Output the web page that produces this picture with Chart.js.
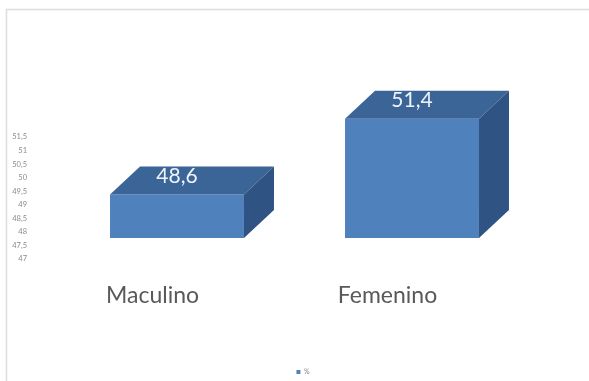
<!DOCTYPE html>
<html>
<head>
<meta charset="utf-8">
<script src="https://cdn.jsdelivr.net/npm/chart.js@4.4.0/dist/chart.umd.min.js"></script>
<style>
    html, body { margin: 0; padding: 0; background: #fff; }
    #wrap { width: 589px; height: 381px; position: relative; }
</style>
</head>
<body>
<div id="wrap"><canvas id="chart"></canvas></div>
<script>
var categories = ['Maculino', 'Femenino'];
var seriesName = '%';
var values = [48.6, 51.4];
var valueLabels = ['48,6', '51,4'];
var tickLabels = ['47', '47,5', '48', '48,5', '49', '49,5', '50', '50,5', '51', '51,5'];

var FRONT = '#4f81bd',
    TOP = '#3b6497',
    SIDE = '#2f5484';
var DEPTH_X = 30,
    DEPTH_Y = 28;

// draws the frame and the top / side faces of each bar
var box3d = {
    id: 'box3d',
    beforeDraw: function(chart) {
        var ctx = chart.ctx;
        ctx.save();
        ctx.strokeStyle = '#dcdcdc';
        ctx.lineWidth = 1.5;
        ctx.beginPath();
        ctx.moveTo(6.5, 381);
        ctx.lineTo(6.5, 9.5);
        ctx.lineTo(589, 9.5);
        ctx.stroke();
        ctx.restore();
    },
    afterDatasetsDraw: function(chart) {
        var ctx = chart.ctx;
        var meta = chart.getDatasetMeta(0);
        ctx.save();
        meta.data.forEach(function(bar, i) {
            var p = bar.getProps(['x', 'y', 'base', 'width'], true);
            var l = p.x - p.width / 2,
                r = p.x + p.width / 2,
                t = p.y,
                b = p.base;

            ctx.fillStyle = TOP;
            ctx.beginPath();
            ctx.moveTo(l, t);
            ctx.lineTo(r, t);
            ctx.lineTo(r + DEPTH_X, t - DEPTH_Y);
            ctx.lineTo(l + DEPTH_X, t - DEPTH_Y);
            ctx.closePath();
            ctx.fill();

            ctx.fillStyle = SIDE;
            ctx.beginPath();
            ctx.moveTo(r, t);
            ctx.lineTo(r + DEPTH_X, t - DEPTH_Y);
            ctx.lineTo(r + DEPTH_X, b - DEPTH_Y);
            ctx.lineTo(r, b);
            ctx.closePath();
            ctx.fill();

            ctx.fillStyle = '#eef3f9';
            ctx.font = '21px Lato, "Open Sans", sans-serif';
            ctx.textAlign = 'center';
            ctx.textBaseline = 'alphabetic';
            ctx.fillText(valueLabels[i], p.x, t - 12);
        });
        ctx.restore();
    }
};

new Chart(document.getElementById('chart'), {
    type: 'bar',
    data: {
        labels: categories,
        datasets: [{
            label: seriesName,
            data: values,
            base: 47,
            yAxisID: 'yb',
            backgroundColor: FRONT,
            borderWidth: 0,
            barPercentage: 0.57,
            categoryPercentage: 1,
            clip: false
        }]
    },
    options: {
        responsive: true,
        maintainAspectRatio: false,
        animation: false,
        layout: {
            // negative right padding pushes the legend centre to the right
            padding: { top: 137, left: 0, right: -17, bottom: 4.5 }
        },
        plugins: {
            tooltip: { enabled: false },
            legend: {
                position: 'bottom',
                maxHeight: 8,
                labels: {
                    boxWidth: 4,
                    boxHeight: 4,
                    padding: 0,
                    color: '#808080',
                    font: { family: 'Lato', size: 7 }
                }
            }
        },
        scales: {
            x: {
                grid: { display: false, drawTicks: false },
                border: { display: false },
                ticks: {
                    padding: 23,
                    labelOffset: -24.5,
                    color: '#595959',
                    font: { family: 'Lato', size: 23 }
                },
                afterFit: function(scale) { scale.height = 109.5; }
            },
            y: {
                position: 'left',
                min: 47,
                max: 51.5,
                grid: { display: false, drawTicks: false },
                border: { display: false },
                ticks: {
                    stepSize: 0.5,
                    padding: 32.5,
                    color: '#8a8a8a',
                    font: { family: 'Lato', size: 7.5 },
                    callback: function(v, i) { return tickLabels[i]; }
                },
                afterFit: function(scale) { scale.width = 59.5; }
            },
            yb: {
                position: 'right',
                min: 46.2254,
                max: 50.7254,
                grid: { display: false, drawTicks: false },
                border: { display: false },
                ticks: { display: false },
                afterFit: function(scale) { scale.width = 76.5; }
            }
        }
    },
    plugins: [box3d]
});
</script>
</body>
</html>
